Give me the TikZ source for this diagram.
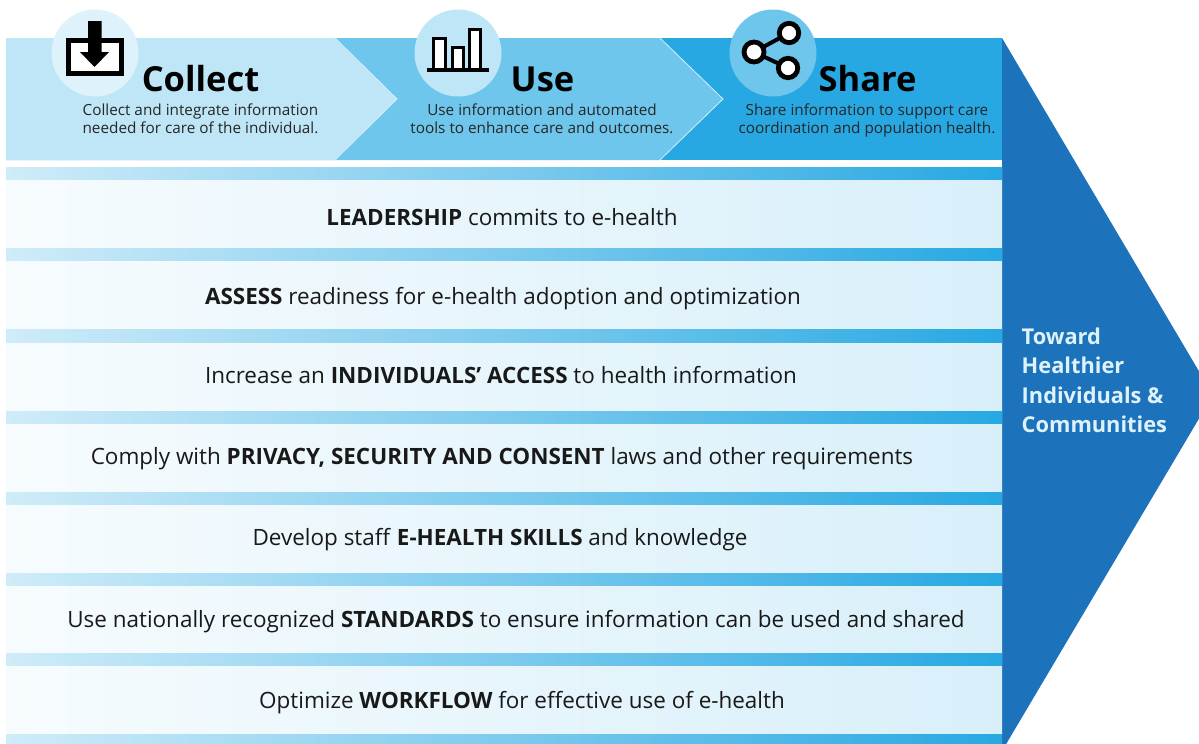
\documentclass[tikz,border=0pt]{standalone}
\usepackage{fontspec}
\setmainfont{Open Sans}
\definecolor{pale}{HTML}{BFE6F6}
\definecolor{mid}{HTML}{6FC6EC}
\definecolor{deep}{HTML}{27A8E2}
\definecolor{navy}{HTML}{1D72BC}
\definecolor{circ}{HTML}{DDF2FA}
\tikzset{
 x=1pt,y=-1pt,
 rowtext/.style={font=\fontsize{22.45}{26}\selectfont,text=black!90,anchor=base,inner sep=0},
 headtext/.style={font=\fontsize{34.5}{38}\selectfont\bfseries,anchor=base,inner sep=0},
 subtext/.style={font=\fontsize{15.3}{18}\selectfont,text=black!85,align=center,anchor=base,inner sep=0},
 sidetext/.style={font=\fontsize{21.8}{29.5}\selectfont\bfseries,text=circ,align=left,anchor=north west,inner sep=0},
 strip/.style={left color=deep!22,right color=deep,middle color=deep!60},
 rowbody/.style={left color=white!96!deep,right color=deep!18},
 icon/.style={draw=black,line width=2.8pt,fill=white},
 ringicon/.style={draw=black,line width=4.8pt,fill=white},
 chevedge/.style={draw=white!70!mid,line width=.8pt}
}
\begin{document}
\begin{tikzpicture}
\useasboundingbox (0,0) rectangle (1199,744);
\fill[white] (0,0) rectangle (1199,744);
% big arrow
\clip (0,0) rectangle (1199,744);
\fill[navy] (1002,38) -- (1213,395) -- (1002,751) -- cycle;
% rows
\foreach \t/\b in {167/248,248/329.5,329.5/411,411/492,492/573,573/653,653/734}{
  \fill[rowbody] (6,\t) rectangle (1002,\b);
  \fill[strip] (6,\t) rectangle (1002,\t+12.5);
}
\fill[strip] (6,734) rectangle (1002,744);
% banner
\fill[deep] (6,38) rectangle (1002,160);
\path[fill=mid] (6,38) -- (660,38) -- (723,99) -- (660,160) -- (6,160) -- cycle;
\draw[chevedge] (660,38) -- (723,99) -- (660,160);
\path[fill=pale] (6,38) -- (335,38) -- (397,99) -- (335,160) -- (6,160) -- cycle;
\draw[chevedge] (335,38) -- (397,99) -- (335,160);
% circles
\fill[circ] (95,53) circle (43.5);
\fill[pale] (458,53) circle (43.5);
\fill[mid] (773,53) circle (43.5);
% collect icon
\draw[black,line width=5pt,fill=white] (68.5,40.5) rectangle (121.5,73.5);
\fill[black] (88,21) -- (101.5,21) -- (101.5,52) -- (109,52) -- (94.5,67) -- (80,52) -- (88,52) -- cycle;
% use icon
\draw[icon] (433.5,70) -- (433.5,38.5) -- (445.5,38.5) -- (445.5,70);
\draw[icon] (452.5,70) -- (452.5,47.5) -- (463.5,47.5) -- (463.5,70);
\draw[icon] (469.5,70) -- (469.5,29.5) -- (480.5,29.5) -- (480.5,70);
\draw[black,line width=4.5pt] (427,70) -- (489,70);
% share icon
\draw[black,line width=4pt] (754,52) -- (789,33) (754,52) -- (788,68);
\draw[ringicon] (754,52) circle (10);
\draw[ringicon] (789,33) circle (9.7);
\draw[ringicon] (788,68) circle (9.7);
% headers
\node[headtext] (h1) at (200.5,91) {Collect};
\node[headtext] (h2) at (542.5,91) {Use};
\node[headtext] (h3) at (867.5,91) {Share};
\node[subtext] (s1a) at (200.5,115) {Collect and integrate information};
\node[subtext] (s1b) at (200.5,133) {needed for care of the individual.};
\node[subtext] (s2a) at (542,115) {Use information and automated};
\node[subtext] (s2b) at (542,133) {tools to enhance care and outcomes.};
\node[subtext] (s3a) at (867,115) {Share information to support care};
\node[subtext] (s3b) at (867,133) {coordination and population health.};
% rows text
\node[rowtext] (r1) at (502,225.5) {\textbf{LEADERSHIP} commits to e-health};
\node[rowtext] (r2) at (503,304.5) {\textbf{ASSESS} readiness for e-health adoption and optimization};
\node[rowtext] (r3) at (501,383.5) {Increase an \textbf{INDIVIDUALS’ ACCESS} to health information};
\node[rowtext] (r4) at (502,464.5) {Comply with \textbf{PRIVACY, SECURITY AND CONSENT} laws and other requirements};
\node[rowtext] (r5) at (500,545.5) {Develop staff \textbf{E-HEALTH SKILLS} and knowledge};
\node[rowtext] (r6) at (516,627.5) {Use nationally recognized \textbf{STANDARDS} to ensure information can be used and shared};
\node[rowtext] (r7) at (522,708.5) {Optimize \textbf{WORKFLOW} for effective use of e-health};
\node[sidetext] (side) at (1021.5,327.5) {Toward\\Healthier\\Individuals \&\\Communities};
\end{tikzpicture}
\end{document}
